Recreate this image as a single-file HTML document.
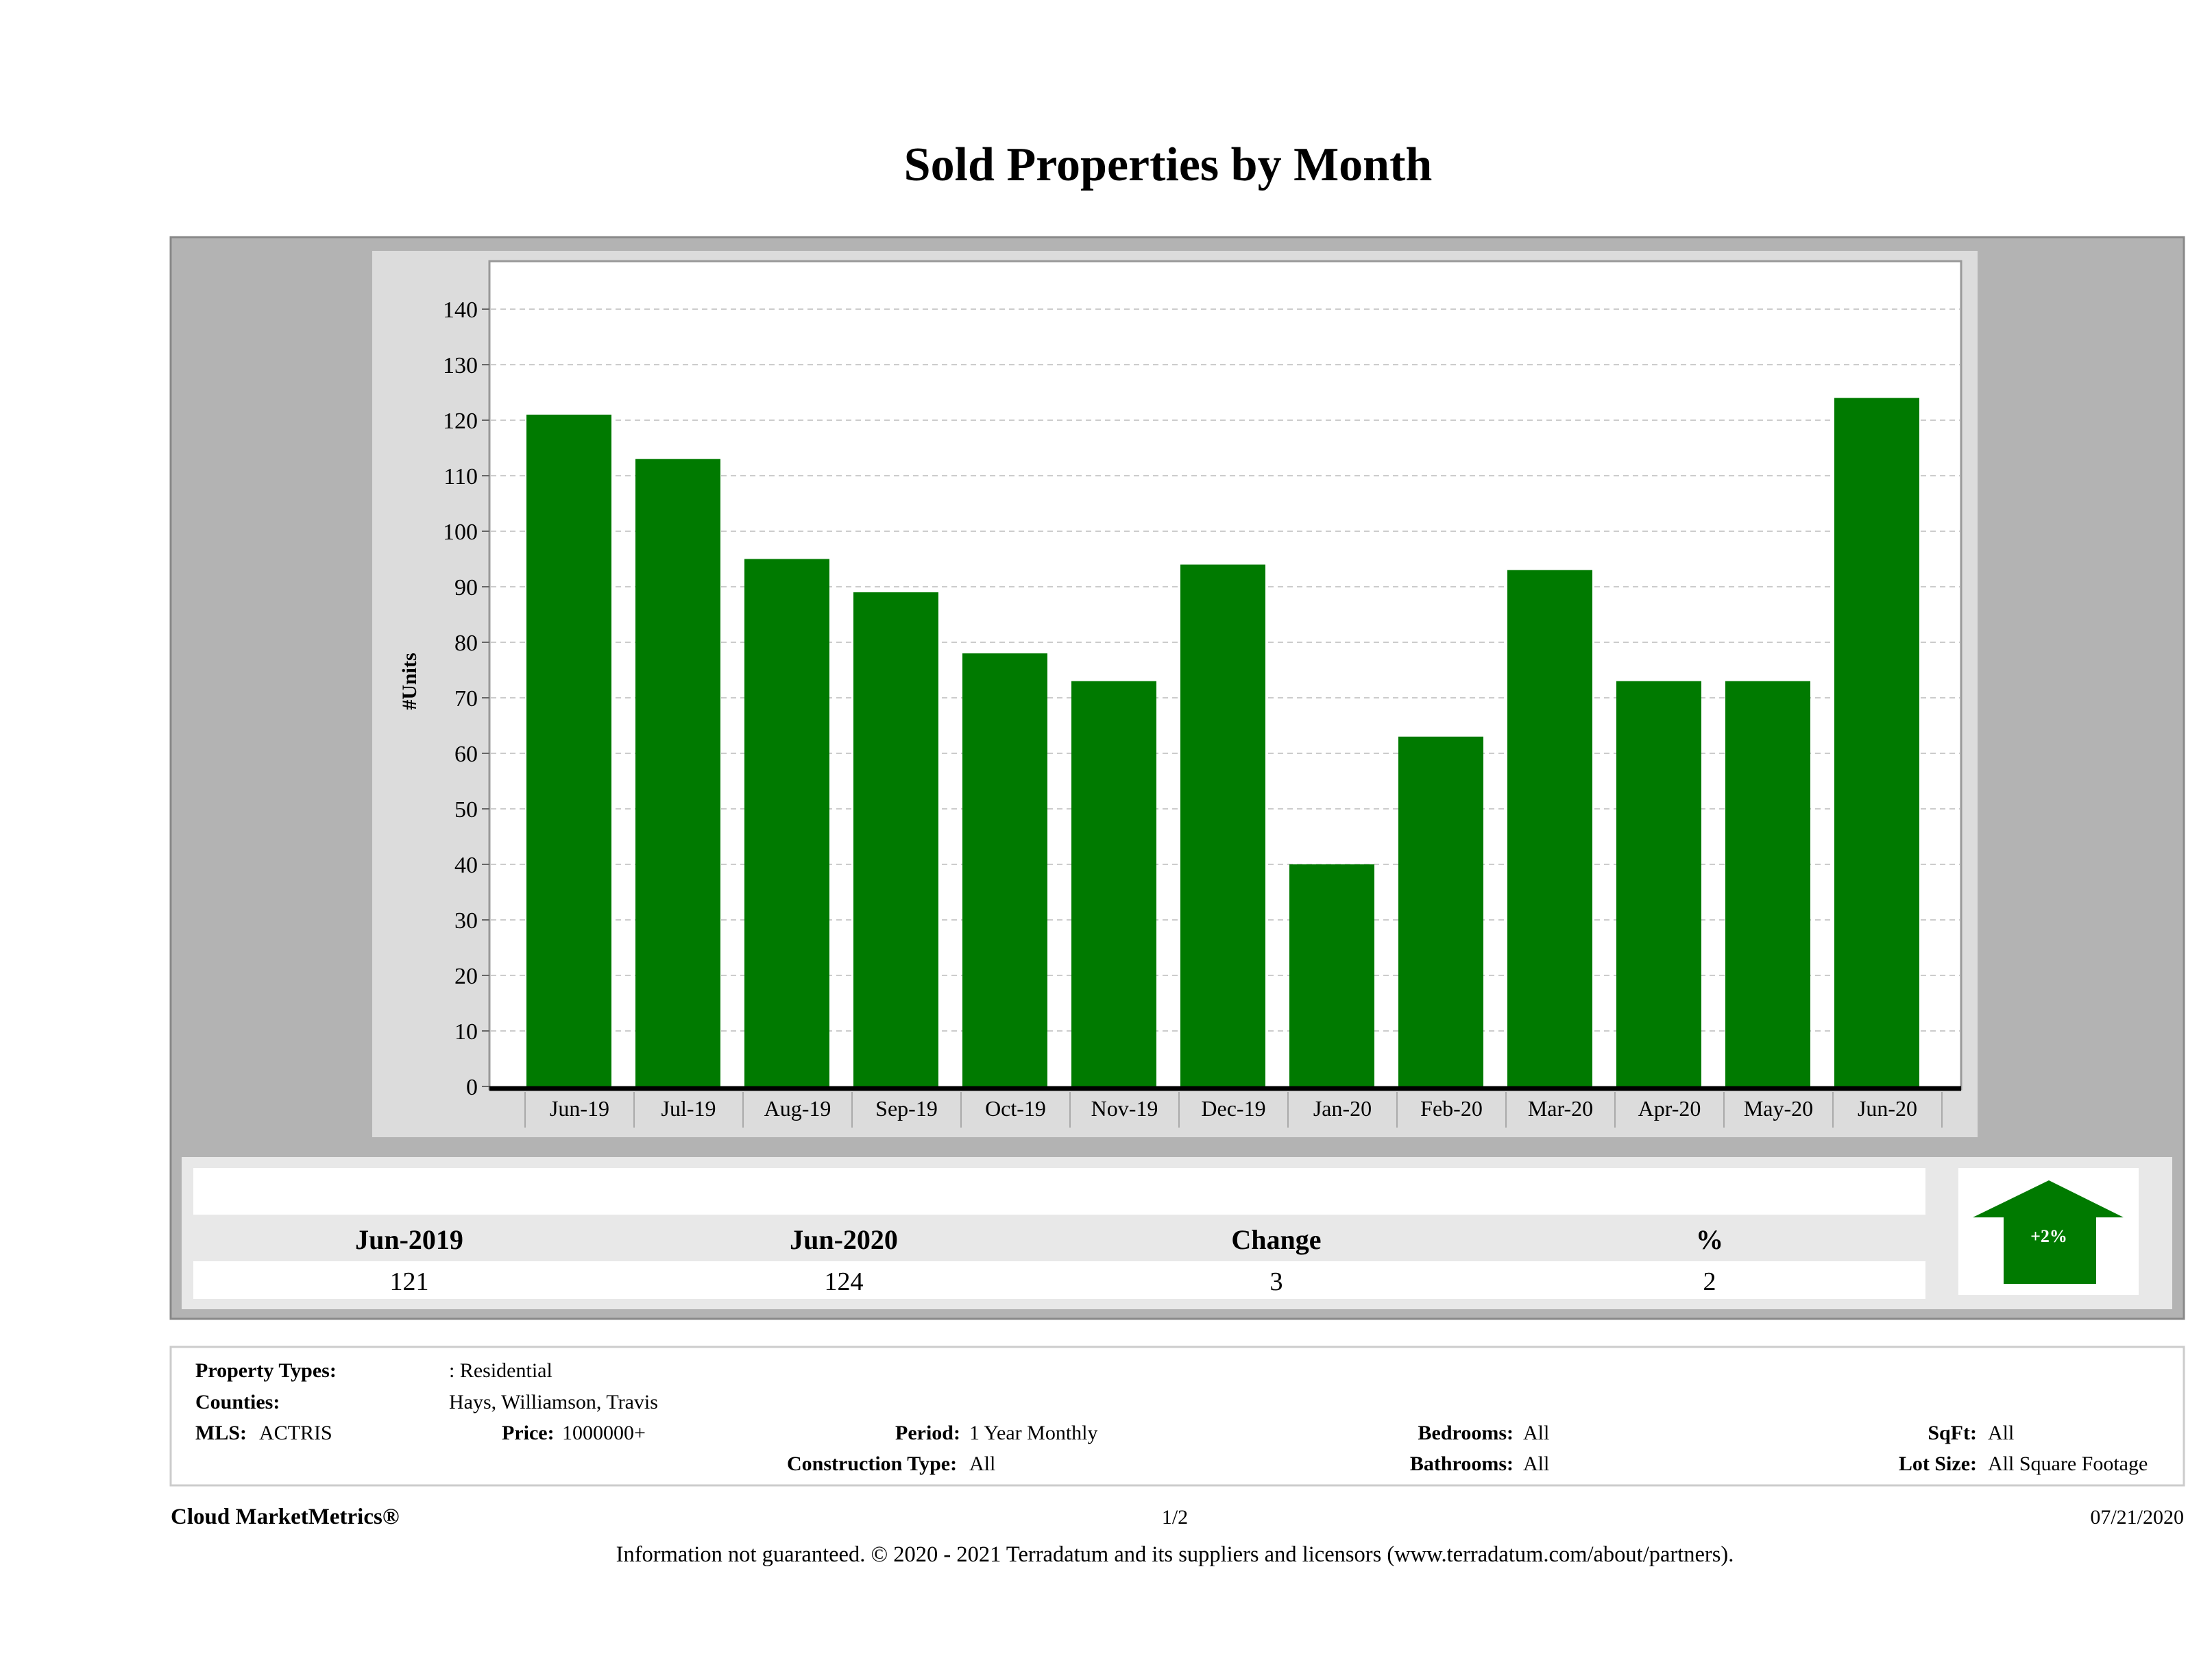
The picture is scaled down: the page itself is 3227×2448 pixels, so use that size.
<!DOCTYPE html>
<html><head><meta charset="utf-8"><style>
html,body{margin:0;padding:0;background:#fff;}
svg{display:block;font-family:"Liberation Serif",serif;}
</style></head><body>
<svg id="page" width="3227" height="2448" viewBox="0 0 3227 2448" xmlns="http://www.w3.org/2000/svg">
<text x="1704" y="263" text-anchor="middle" font-size="70" font-weight="bold" fill="#000">Sold Properties by Month</text>
<rect x="249" y="346" width="2937" height="1578" fill="#b3b3b3" stroke="#888" stroke-width="3"/>
<rect x="543" y="366" width="2342" height="1293" fill="#dcdcdc"/>
<rect x="714" y="381" width="2147" height="1208" fill="#fff" stroke="#999" stroke-width="3"/>
<g id="grid"></g>
<g id="bars"></g>
<g id="yticks"></g>
<g id="xticks"></g>
<text transform="translate(607,994) rotate(-90)" text-anchor="middle" font-size="30" font-weight="bold">#Units</text>

<rect x="265" y="1688" width="2904" height="222" fill="#e8e8e8"/>
<rect x="282" y="1704" width="2527" height="68" fill="#fff"/>
<rect x="282" y="1840" width="2527" height="55" fill="#fff"/>
<g font-size="40" font-weight="bold" text-anchor="middle">
<text x="597" y="1822">Jun-2019</text>
<text x="1231" y="1822">Jun-2020</text>
<text x="1862" y="1822">Change</text>
<text x="2494" y="1822">%</text>
</g>
<g font-size="38" text-anchor="middle">
<text x="597" y="1882">121</text>
<text x="1231" y="1882">124</text>
<text x="1862" y="1882">3</text>
<text x="2494" y="1882">2</text>
</g>
<rect x="2857" y="1704" width="263" height="185" fill="#fff"/>
<polygon points="2989,1722 3098,1776 3058,1776 3058,1873 2923,1873 2923,1776 2878,1776" fill="#007a00"/>
<text x="2989" y="1812" text-anchor="middle" font-size="26" font-weight="bold" fill="#fff">+2%</text>

<rect x="249" y="1965" width="2937" height="202" fill="#fff" stroke="#ccc" stroke-width="3"/>
<g font-size="30">
<text x="285" y="2009" font-weight="bold">Property Types:</text><text x="655" y="2009">: Residential</text>
<text x="285" y="2055" font-weight="bold">Counties:</text><text x="655" y="2055">Hays, Williamson, Travis</text>
<text x="285" y="2100" font-weight="bold">MLS:</text><text x="378" y="2100">ACTRIS</text>
<text x="732" y="2100" font-weight="bold">Price:</text><text x="820" y="2100">1000000+</text>
<text x="1306" y="2100" font-weight="bold">Period:</text><text x="1414" y="2100">1 Year Monthly</text>
<text x="1148" y="2145" font-weight="bold">Construction Type:</text><text x="1414" y="2145">All</text>
<text x="2208" y="2100" text-anchor="end" font-weight="bold">Bedrooms:</text><text x="2222" y="2100">All</text>
<text x="2208" y="2145" text-anchor="end" font-weight="bold">Bathrooms:</text><text x="2222" y="2145">All</text>
<text x="2884" y="2100" text-anchor="end" font-weight="bold">SqFt:</text><text x="2900" y="2100">All</text>
<text x="2884" y="2145" text-anchor="end" font-weight="bold">Lot Size:</text><text x="2900" y="2145">All Square Footage</text>
</g>
<text x="249" y="2223" font-size="33" font-weight="bold">Cloud MarketMetrics®</text>
<text x="1714" y="2223" font-size="30" text-anchor="middle">1/2</text>
<text x="3186" y="2223" font-size="30" text-anchor="end">07/21/2020</text>
<text x="1714" y="2278" font-size="32.5" text-anchor="middle">Information not guaranteed. © 2020 - 2021 Terradatum and its suppliers and licensors (www.terradatum.com/about/partners).</text>
</svg>
<script>
const categories=["Jun-19","Jul-19","Aug-19","Sep-19","Oct-19","Nov-19","Dec-19","Jan-20","Feb-20","Mar-20","Apr-20","May-20","Jun-20"];
const soldUnits=[121,113,95,89,78,73,94,40,63,93,73,73,124];
const yTicks=[0,10,20,30,40,50,60,70,80,90,100,110,120,130,140];
const NS="http://www.w3.org/2000/svg";
const y0=1585,yPer=(1585-451)/140;
function yScale(v){return y0-v*yPer;}
const bandStart=766,band=159;
function barLeft(i){return bandStart+band*i+2;}
function labelCenter(i){return bandStart+band*i+band/2;}
function mk(t,a,p){const e=document.createElementNS(NS,t);for(const k in a)e.setAttribute(k,a[k]);p.appendChild(e);return e;}
const grid=document.getElementById('grid'),bars=document.getElementById('bars'),yt=document.getElementById('yticks'),xt=document.getElementById('xticks');
yTicks.forEach(v=>{
  const y=yScale(v);
  if(v>0){const g=mk('line',{x1:716,x2:2859,y1:y,y2:y,stroke:'#ccc','stroke-width':2,'stroke-dasharray':'8 6'},grid);
  
  }
  const tk=mk('line',{x1:703,x2:714,y1:y,y2:y,stroke:'#666','stroke-width':2},yt);
  
  
  const t=mk('text',{x:697,y:y+12,'text-anchor':'end','font-size':34},yt);
  t.textContent=v;
  
  
});
soldUnits.forEach((v,i)=>{
  const w=124,x=barLeft(i);
  const r=mk('rect',{x:x,y:yScale(v),width:w,height:y0-yScale(v),fill:'#007a00'},bars);
  
  
});
const ax=mk('line',{x1:714,x2:2861,y1:y0+3,y2:y0+3,stroke:'#000','stroke-width':7},xt);


for(let i=0;i<=categories.length;i++){
  const x=bandStart+band*i;
  const s=mk('line',{x1:x,x2:x,y1:y0+8,y2:y0+60,stroke:'#aaa','stroke-width':2},xt);
  
  
}
categories.forEach((c,i)=>{
  const t=mk('text',{x:labelCenter(i),y:1628,'text-anchor':'middle','font-size':32},xt);
  t.textContent=c;
  
  
});
</script>
</body></html>
